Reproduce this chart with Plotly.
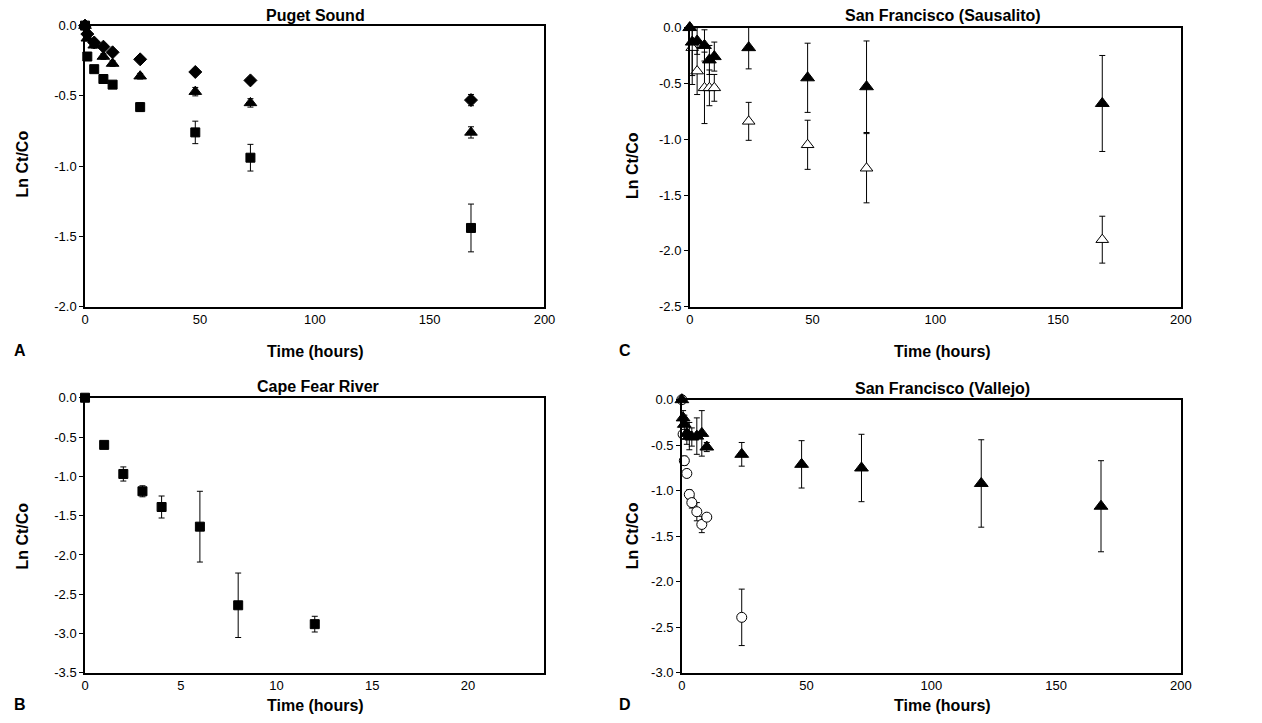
import plotly.graph_objects as go

W, H = 1262, 723

# ---------------- DATA ----------------
# Panel A: Puget Sound
a_time = [0, 1, 4, 8, 12, 24, 48, 72, 168]
a_sq = [0.0, -0.22, -0.31, -0.38, -0.42, -0.58, -0.76, -0.94, -1.44]
a_sq_err = [0.0, 0.02, 0.02, 0.02, 0.02, 0.03, 0.08, 0.095, 0.17]
a_tri = [0.0, -0.09, -0.14, -0.22, -0.27, -0.36, -0.47, -0.55, -0.76]
a_tri_err = [0.0, 0.02, 0.02, 0.02, 0.02, 0.02, 0.03, 0.03, 0.04]
a_dia = [0.0, -0.06, -0.12, -0.15, -0.19, -0.24, -0.33, -0.39, -0.53]
a_dia_err = [0.0, 0.02, 0.02, 0.02, 0.02, 0.02, 0.02, 0.02, 0.04]

# Panel B: Cape Fear River
b_time = [0, 1, 2, 3, 4, 6, 8, 12]
b_sq = [0.0, -0.6, -0.97, -1.19, -1.39, -1.64, -2.64, -2.88]
b_sq_err = [0.0, 0.03, 0.09, 0.07, 0.14, 0.45, 0.41, 0.10]

# Panel C: San Francisco (Sausalito)
c_time = [0, 1, 3, 6, 8, 10, 24, 48, 72, 168]
c_filled = [0.0, -0.13, -0.12, -0.16, -0.29, -0.26, -0.18, -0.45, -0.53, -0.68]
c_filled_err = [0.0, 0.30, 0.12, 0.14, 0.13, 0.13, 0.19, 0.31, 0.41, 0.43]
c_open = [0.0, -0.18, -0.39, -0.54, -0.54, -0.54, -0.84, -1.05, -1.26, -1.90]
c_open_err = [0.0, 0.33, 0.21, 0.32, 0.16, 0.12, 0.17, 0.22, 0.31, 0.21]

# Panel D: San Francisco (Vallejo)
d_tri_time = [0, 0.5, 1, 2, 3, 4, 6, 8, 10, 24, 48, 72, 120, 168]
d_tri = [0.0, -0.2, -0.27, -0.37, -0.40, -0.41, -0.40, -0.37, -0.52, -0.60, -0.71, -0.75, -0.92, -1.17]
d_tri_err = [0.0, 0.08, 0.10, 0.12, 0.15, 0.10, 0.20, 0.25, 0.05, 0.13, 0.26, 0.37, 0.48, 0.50]
d_circ_time = [0, 0.5, 1, 2, 3, 4, 6, 8, 10, 24]
d_circ = [0.0, -0.38, -0.67, -0.81, -1.04, -1.13, -1.23, -1.37, -1.29, -2.39]
d_circ_err = [0.0, 0.05, 0.05, 0.03, 0.05, 0.06, 0.10, 0.09, 0.03, 0.31]

# Axis tick labels
y_ticks_a = [0.0, -0.5, -1.0, -1.5, -2.0]
y_ticks_b = [0.0, -0.5, -1.0, -1.5, -2.0, -2.5, -3.0, -3.5]
y_ticks_c = [0.0, -0.5, -1.0, -1.5, -2.0, -2.5]
y_ticks_d = [0.0, -0.5, -1.0, -1.5, -2.0, -2.5, -3.0]
x_ticks_long = [0, 50, 100, 150, 200]
x_ticks_b = [0, 5, 10, 15, 20]

titles = ["Puget Sound", "Cape Fear River", "San Francisco (Sausalito)", "San Francisco (Vallejo)"]
panel_letters = ["A", "B", "C", "D"]
x_title = "Time (hours)"
y_title = "Ln Ct/Co"

# ---------------- LAYOUT (pixel boxes) ----------------
FONT = "Arial, Liberation Sans, Helvetica, sans-serif"
boxes = {
    "A": (82, 547, 19, 306),
    "B": (82, 547, 399, 680),
    "C": (694, 1191, 21, 306),
    "D": (686, 1191, 401, 680),
}

def px_x(x):
    return x / W

def px_y(y):
    return 1 - y / H

fig = go.Figure()

def err(arr):
    return dict(type="data", array=arr, visible=True, color="black", thickness=1, width=3)

def add(xs, ys, es, axis, symbol, size, filled=True):
    xa, ya = axis
    fig.add_trace(go.Scatter(
        x=xs, y=ys, mode="markers", xaxis=xa, yaxis=ya,
        error_y=err(es),
        marker=dict(symbol=symbol, size=size,
                    color="black" if filled else "white",
                    line=dict(color="black", width=1)),
        showlegend=False, cliponaxis=False,
    ))

add(a_time, a_sq, a_sq_err, ("x", "y"), "square", 9)
add(a_time, a_tri, a_tri_err, ("x", "y"), "triangle-up", 11)
add(a_time, a_dia, a_dia_err, ("x", "y"), "diamond", 10)

add(b_time, b_sq, b_sq_err, ("x2", "y2"), "square", 9)

add(c_time, c_open, c_open_err, ("x3", "y3"), "triangle-up", 11, filled=False)
add(c_time, c_filled, c_filled_err, ("x3", "y3"), "triangle-up", 12)

add(d_circ_time, d_circ, d_circ_err, ("x4", "y4"), "circle", 10, filled=False)
add(d_tri_time, d_tri, d_tri_err, ("x4", "y4"), "triangle-up", 12)

def fmt(v):
    return f"{v:.1f}"

def xaxis(key, rng, ticks):
    l, r, t, b = boxes[key]
    return dict(domain=[px_x(l), px_x(r)], range=rng, tickvals=ticks,
                ticktext=[str(t_) for t_ in ticks], showline=True, mirror=True,
                linecolor="black", linewidth=1.5, showgrid=False, zeroline=False,
                ticks="", tickfont=dict(family=FONT, size=13, color="black"))

def yaxis(key, rng, ticks, anchor):
    l, r, t, b = boxes[key]
    return dict(domain=[px_y(b), px_y(t)], range=rng, tickvals=ticks,
                ticktext=[fmt(v) for v in ticks], showline=True, mirror=True,
                linecolor="black", linewidth=1.5, showgrid=False, zeroline=False,
                ticks="outside", ticklen=4, tickwidth=1, tickcolor="black",
                anchor=anchor,
                tickfont=dict(family=FONT, size=13, color="black"))

fig.update_layout(
    width=W, height=H, margin=dict(l=0, r=0, t=0, b=0),
    paper_bgcolor="white", plot_bgcolor="white",
    xaxis=dict(xaxis("A", [0, 200], x_ticks_long), anchor="y"),
    yaxis=yaxis("A", [-2.0, 0.0], y_ticks_a, "x"),
    xaxis2=dict(xaxis("B", [0, 24], x_ticks_b), anchor="y2"),
    yaxis2=yaxis("B", [-3.5, 0.0], y_ticks_b, "x2"),
    xaxis3=dict(xaxis("C", [0, 200], x_ticks_long), anchor="y3"),
    yaxis3=yaxis("C", [-2.5, 0.0], y_ticks_c, "x3"),
    xaxis4=dict(xaxis("D", [0, 200], x_ticks_long), anchor="y4"),
    yaxis4=yaxis("D", [-3.0, 0.0], y_ticks_d, "x4"),
)

ann = []
def text(x, y, s, size=16, angle=0, xanchor="center"):
    ann.append(dict(x=px_x(x), y=px_y(y), xref="paper", yref="paper", text=f"<b>{s}</b>",
                    showarrow=False, textangle=angle, xanchor=xanchor, yanchor="middle",
                    font=dict(family=FONT, size=size, color="black")))

title_pos = [(315, 9), (318, 388), (950, 9), (950, 390)]
for s, (x, y) in zip(titles, title_pos):
    text(x, y, s)
for (x, y) in [(315, 352), (315, 713), (950, 352), (950, 713)]:
    text(x, y, x_title)
for (x, y) in [(19, 160), (19, 540), (636, 162), (636, 540)]:
    text(x, y, y_title, angle=-90)
for s, (x, y) in zip(panel_letters, [(8, 351), (8, 712), (620, 351), (620, 712)]):
    text(x, y, s, xanchor="left")

fig.update_layout(annotations=ann)
fig.write_html("out.html")
